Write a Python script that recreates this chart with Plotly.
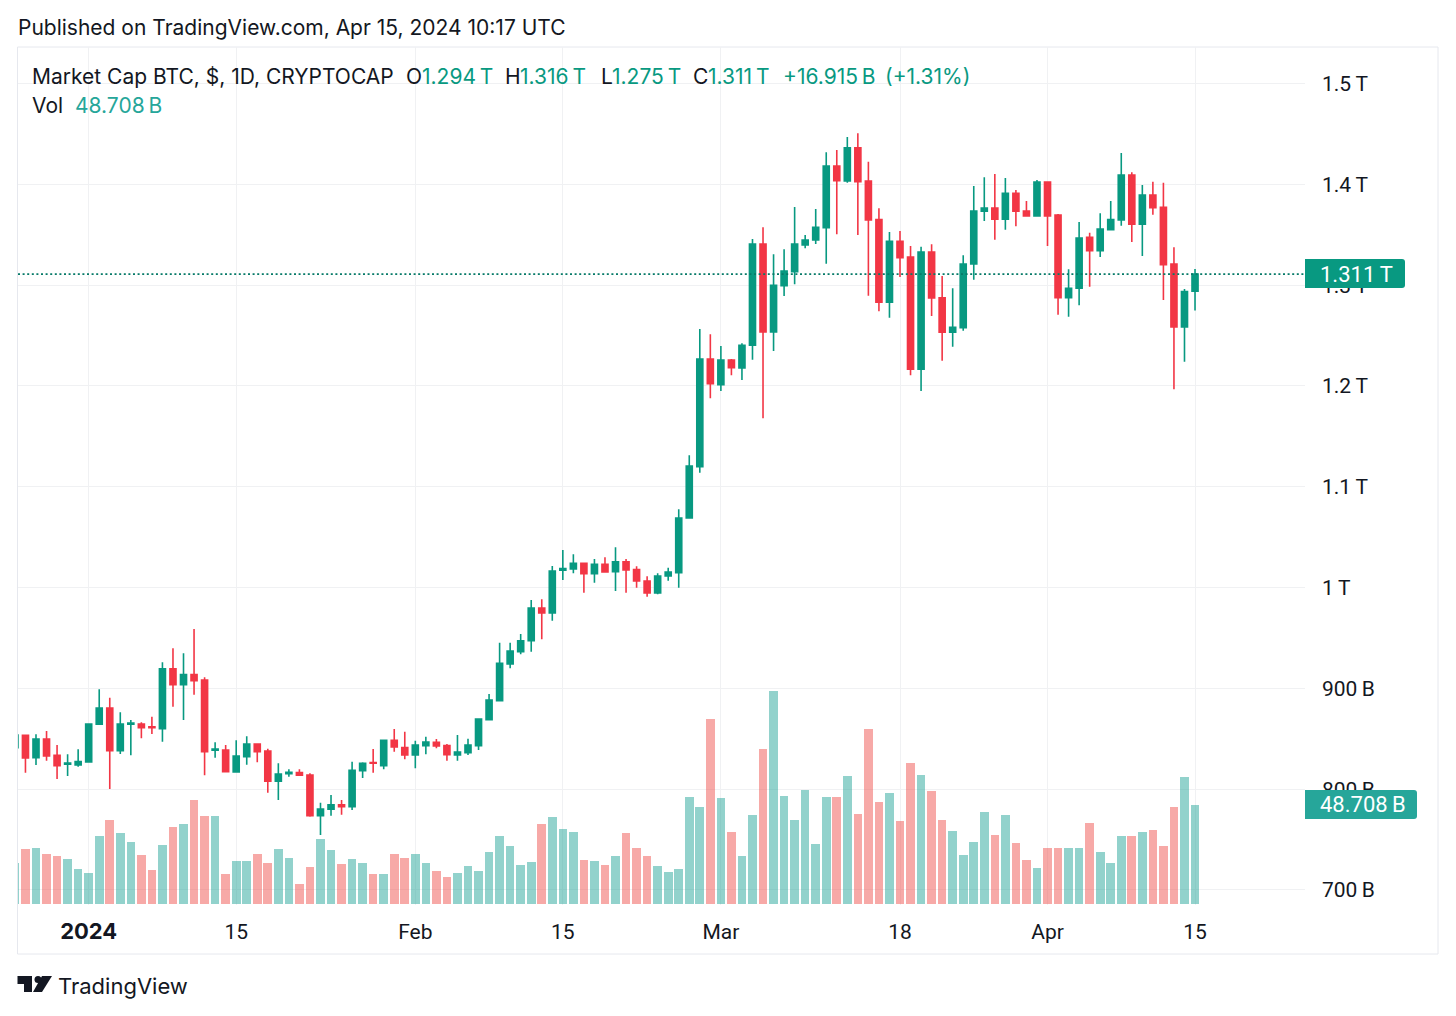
import pandas as pd
import plotly.graph_objects as go

# values in billions of USD, one row per month: Dec 25 2023 to Apr 15 2024
opens = [
    841.2, 853.5, 831.2, 849.8, 833.6, 824.7, 824.0,
    827.0, 864.4, 880.6, 838.2, 864.4, 864.7, 862.0, 860.0, 919.5, 903.7, 913.6, 908.3, 838.6, 838.9, 817.1, 832.2,
    844.8, 837.9, 807.8, 815.4, 816.4, 814.1, 773.7, 780.1, 784.6, 782.6, 818.4, 826.3, 823.3, 848.5, 841.2,
    833.9, 843.2, 846.5, 843.2, 833.9, 836.2, 843.2, 868.9, 887.8, 924.2, 936.4, 947.3, 979.8, 974.8, 1017.2,
    1018.5, 1024.1, 1013.8, 1023.1, 1015.8, 1025.7, 1017.8, 1006.5, 994.6, 1011.5, 1014.8, 1069.0, 1119.9, 1226.8,
    1201.3, 1225.8, 1217.9, 1240.4, 1340.9, 1253.6, 1299.5, 1313.4, 1339.9, 1344.8, 1357.0, 1418.3, 1403.4, 1436.4, 1403.4,
    1365.0, 1283.0, 1343.5, 1328.0, 1216.6, 1332.9, 1287.6, 1253.3, 1257.8, 1321.0, 1373.3, 1376.6, 1365.4, 1391.2, 1373.6, 1368.6,
    1402.4, 1369.6, 1287.6, 1296.9, 1347.5, 1334.2, 1355.1, 1364.7, 1409.3, 1360.4, 1389.5, 1377.3, 1321.0, 1258.5, 1294.0,
]
highs = [
    855.0, 854.0, 854.5, 857.7, 843.8, 834.6, 839.6,
    865.0, 899.1, 890.8, 876.3, 868.7, 866.4, 871.9, 925.9, 939.8, 934.8, 958.9, 911.0, 846.5, 843.8, 848.5, 852.5,
    845.5, 840.2, 825.7, 819.7, 819.7, 815.8, 786.6, 794.2, 789.3, 827.3, 826.7, 839.9, 848.5, 859.7, 857.0,
    848.1, 852.1, 849.8, 844.8, 853.8, 850.1, 870.3, 894.4, 945.3, 945.3, 954.0, 987.7, 988.4, 1021.4, 1037.3,
    1033.0, 1024.5, 1028.4, 1030.0, 1040.0, 1028.4, 1021.1, 1011.2, 1014.2, 1019.7, 1077.7, 1131.2, 1256.5, 1251.3,
    1239.7, 1226.8, 1242.4, 1345.8, 1357.4, 1330.7, 1335.6, 1377.6, 1349.8, 1375.6, 1431.8, 1434.1, 1447.0, 1450.7, 1422.5,
    1376.3, 1352.8, 1353.8, 1338.9, 1338.2, 1340.6, 1309.1, 1296.9, 1329.7, 1398.4, 1407.0, 1410.3, 1406.3, 1394.4, 1383.5, 1404.4,
    1402.4, 1370.6, 1315.8, 1362.7, 1352.1, 1371.3, 1383.5, 1431.2, 1412.0, 1399.4, 1402.7, 1401.7, 1337.6, 1296.2, 1316.0,
]
lows = [
    840.0, 816.4, 824.0, 828.3, 810.1, 813.1, 822.3,
    826.3, 864.0, 800.2, 834.9, 833.6, 850.5, 854.8, 847.1, 881.8, 868.7, 893.7, 813.8, 831.2, 817.4, 816.4, 824.3,
    826.7, 796.5, 789.3, 812.4, 813.1, 772.7, 754.6, 773.7, 774.7, 779.4, 811.1, 816.4, 819.7, 837.2, 829.7,
    820.7, 834.6, 840.6, 828.3, 828.3, 833.9, 838.9, 868.9, 887.8, 919.9, 933.8, 936.4, 948.7, 967.2, 1007.5,
    1014.2, 994.9, 1004.9, 1014.8, 996.6, 994.9, 999.9, 991.0, 993.3, 1006.8, 999.9, 1069.0, 1114.0, 1187.8,
    1195.0, 1210.6, 1205.9, 1226.1, 1168.0, 1234.7, 1289.3, 1300.9, 1336.6, 1340.9, 1321.3, 1350.5, 1401.7, 1349.8, 1289.6,
    1274.1, 1267.8, 1308.1, 1210.6, 1195.0, 1269.4, 1225.1, 1239.0, 1254.9, 1305.5, 1363.7, 1345.1, 1355.1, 1358.4, 1368.6, 1368.6,
    1338.9, 1270.7, 1268.8, 1280.0, 1298.5, 1328.0, 1355.1, 1359.0, 1342.9, 1329.0, 1369.9, 1285.3, 1196.7, 1224.1, 1275.0,
]
closes = [
    853.8, 831.0, 849.8, 832.9, 823.3, 826.0, 827.3,
    864.7, 880.6, 838.2, 864.7, 865.7, 861.0, 861.0, 919.5, 903.7, 913.6, 907.6, 837.2, 839.9, 817.4, 832.9, 844.8,
    837.2, 807.8, 815.1, 816.8, 813.8, 773.7, 780.4, 784.6, 782.6, 818.8, 825.7, 825.7, 848.5, 841.9, 833.9,
    843.8, 846.8, 842.9, 834.2, 836.9, 843.8, 869.6, 888.5, 924.9, 937.1, 947.3, 979.8, 974.8, 1016.5, 1018.8,
    1024.1, 1013.8, 1023.1, 1015.5, 1025.7, 1017.5, 1006.5, 994.6, 1011.5, 1015.5, 1069.0, 1120.6, 1226.8, 1202.3,
    1225.8, 1218.1, 1240.4, 1340.9, 1253.6, 1299.9, 1314.1, 1340.9, 1344.8, 1357.4, 1418.3, 1403.7, 1436.4, 1402.7, 1364.7,
    1283.0, 1343.5, 1327.3, 1216.6, 1332.9, 1287.3, 1253.3, 1258.2, 1321.0, 1373.6, 1376.6, 1365.4, 1391.2, 1373.3, 1368.6, 1402.4,
    1368.6, 1287.6, 1296.9, 1346.8, 1334.2, 1355.8, 1365.0, 1409.3, 1360.4, 1389.5, 1376.9, 1320.3, 1258.5, 1293.6, 1311.0,
]
volumes = [
    20.0, 27.0, 27.3, 24.4, 23.5, 22.1, 17.0,
    15.2, 33.4, 41.2, 34.7, 30.4, 24.0, 16.7, 28.9, 37.8, 39.2, 51.0, 43.2, 43.2, 14.9, 20.9, 20.9,
    24.7, 20.1, 27.0, 22.6, 9.8, 18.1, 32.0, 26.5, 19.6, 22.1, 20.1, 14.9, 14.9, 24.4, 22.6,
    24.7, 20.1, 16.2, 13.4, 15.2, 18.6, 16.2, 25.5, 33.4, 28.4, 19.1, 20.5, 39.2, 42.8, 36.8,
    35.3, 21.6, 21.2, 19.1, 23.5, 34.7, 27.5, 23.5, 18.6, 15.7, 17.0, 52.3, 47.6, 90.6,
    51.8, 35.3, 23.5, 43.7, 76.0, 104.3, 52.8, 41.2, 55.8, 29.4, 52.3, 52.6, 62.9, 44.1, 85.8,
    50.0, 54.4, 40.7, 69.2, 63.4, 55.4, 41.2, 35.8, 23.9, 30.4, 45.0, 33.8, 43.7, 29.9, 21.6, 17.5,
    27.5, 27.5, 27.5, 27.5, 39.7, 25.5, 20.1, 33.4, 33.4, 35.5, 36.3, 28.4, 47.6, 62.1, 48.708,
]
dates = pd.date_range("2023-12-25", periods=len(opens))

x_tick_vals = ["2024-01-01", "2024-01-15", "2024-02-01", "2024-02-15", "2024-03-01", "2024-03-18", "2024-04-01", "2024-04-15"]
x_tick_text = ['<span style="font-family:Inter;font-size:22px"><b>2024</b></span>', "15", "Feb", "15", "Mar", "18", "Apr", "15"]
y_tick_vals = [700, 800, 900, 1000, 1100, 1200, 1300, 1400, 1500]
y_tick_text = ["700\u2009B", "800\u2009B", "900\u2009B", "1\u2009T", "1.1\u2009T", "1.2\u2009T", "1.3\u2009T", "1.4\u2009T", "1.5\u2009T"]

GREEN = "#089981"
RED = "#F23645"
VOL_GREEN = "rgba(38,166,154,0.5)"
VOL_RED = "rgba(239,83,80,0.5)"
TEAL = "#26A69A"
INK = "#131722"
GRID = "#F0F1F3"
FONT = "Inter, Roboto, sans-serif"
NUM_FONT = "Roboto, Inter, sans-serif"  # axis digits are all one width, like the original

# pane edges in page pixels
LEFT, RIGHT, TOP, BOTTOM = 18, 1305, 47, 905


def paper_x(px):
    return (px - LEFT) / (RIGHT - LEFT)


def paper_y(py):
    return (BOTTOM - py) / (BOTTOM - TOP)


def label(px, py, text, color=INK, size=21, family=FONT):
    # annotations sit 2px inside their anchor
    return dict(
        x=paper_x(px - 2), y=paper_y(py), xref="paper", yref="paper", text=text, showarrow=False,
        xanchor="left", yanchor="middle", font=dict(family=family, size=size, color=color),
    )


def poly(points):
    return "M " + " L ".join(f"{paper_x(a)},{paper_y(b)}" for a, b in points) + " Z"


def price_tag(x1, y0, y1, color):
    r = 3
    path = (
        f"M {paper_x(RIGHT)},{paper_y(y0)} L {paper_x(x1 - r)},{paper_y(y0)} "
        f"Q {paper_x(x1)},{paper_y(y0)} {paper_x(x1)},{paper_y(y0 + r)} "
        f"L {paper_x(x1)},{paper_y(y1 - r)} Q {paper_x(x1)},{paper_y(y1)} {paper_x(x1 - r)},{paper_y(y1)} "
        f"L {paper_x(RIGHT)},{paper_y(y1)} Z"
    )
    return dict(type="path", path=path, xref="paper", yref="paper", fillcolor=color, line_width=0, layer="above")


vol_colors = [VOL_GREEN if c >= o else VOL_RED for o, c in zip(opens, closes)]

fig = go.Figure()
fig.add_trace(go.Bar(
    x=dates, y=volumes, marker=dict(color=vol_colors, line_width=0), width=0.82 * 86400000,
    yaxis="y", hoverinfo="skip", showlegend=False,
))
fig.add_trace(go.Candlestick(
    x=dates, open=opens, high=highs, low=lows, close=closes, yaxis="y2", whiskerwidth=0,
    increasing=dict(line=dict(color=GREEN, width=1.6), fillcolor=GREEN),
    decreasing=dict(line=dict(color=RED, width=1.6), fillcolor=RED),
    hoverinfo="skip", showlegend=False,
))

shapes = [
    dict(type="rect", xref="paper", yref="paper", x0=paper_x(17.5), x1=paper_x(1438), y0=paper_y(47), y1=paper_y(954),
         line=dict(color="#E6E8EE", width=1), layer="below"),
    dict(type="line", xref="paper", yref="y2", x0=0, x1=1, y0=closes[-1], y1=closes[-1],
         line=dict(color="#067A68", width=1.6, dash="2px,2.6px"), layer="above"),
    price_tag(1405, 259, 288, GREEN),
    price_tag(1417, 790, 819, TEAL),
    dict(type="path", path=poly([(17.5, 976), (32, 976), (32, 992), (24, 992), (24, 984), (17.5, 984)]),
         xref="paper", yref="paper", fillcolor=INK, line_width=0),
    dict(type="path", path=poly([(42, 976), (52, 976), (42, 992), (33, 992)]),
         xref="paper", yref="paper", fillcolor=INK, line_width=0),
    dict(type="circle", xref="paper", yref="paper", x0=paper_x(34.5), x1=paper_x(41.5), y0=paper_y(976), y1=paper_y(983),
         fillcolor=INK, line_width=0),
]

annotations = [
    label(18, 28, "Published on TradingView.com, Apr 15, 2024 10:17 UTC"),
    label(32, 76, "Market Cap BTC, $, 1D, CRYPTOCAP"),
    label(406, 76, "O"), label(422, 76, "1.294\u2009T", GREEN),
    label(505, 76, "H"), label(520, 76, "1.316\u2009T", GREEN),
    label(601, 76, "L"), label(612, 76, "1.275\u2009T", GREEN),
    label(693, 76, "C"), label(708, 76, "1.311\u2009T", GREEN),
    label(783, 76, "+16.915\u2009B", GREEN), label(885, 76, "(+1.31%)", GREEN),
    label(32, 105, "Vol"), label(75, 105, "48.708\u2009B", TEAL),
    label(1320, 274, "1.311\u2009T", "#FFFFFF", 22, NUM_FONT),
    label(1320, 804, "48.708\u2009B", "#FFFFFF", 22, NUM_FONT),
    label(58, 986, "TradingView", INK, 22),
]

fig.update_layout(
    width=1456, height=1016, margin=dict(l=LEFT, r=1456 - RIGHT, t=TOP, b=1016 - BOTTOM),
    paper_bgcolor="white", plot_bgcolor="white", font=dict(family=FONT, size=20, color=INK),
    boxgap=0.18, bargap=0, showlegend=False, shapes=shapes, annotations=annotations,
    xaxis=dict(
        range=["2023-12-25 07:00", "2024-04-25 10:30"], rangeslider_visible=False,
        tickmode="array", tickvals=x_tick_vals, ticktext=x_tick_text, showgrid=True, gridcolor=GRID, gridwidth=1.2,
        ticks="", showline=False, zeroline=False, ticklabelstandoff=12, tickfont=dict(family=NUM_FONT, size=21, color=INK),
    ),
    yaxis=dict(range=[-0.49, 420.4], visible=False, showgrid=False, zeroline=False),
    yaxis2=dict(
        overlaying="y", side="right", range=[685.1, 1536.3], tickmode="array",
        tickvals=y_tick_vals, ticktext=y_tick_text, showgrid=True, gridcolor=GRID, gridwidth=1.2,
        ticks="", showline=False, zeroline=False, ticklabelstandoff=16, tickfont=dict(family=NUM_FONT, size=21, color=INK),
    ),
)

fig.write_html("out.html", config=dict(displayModeBar=False), post_script="document.body.style.margin='0';")
